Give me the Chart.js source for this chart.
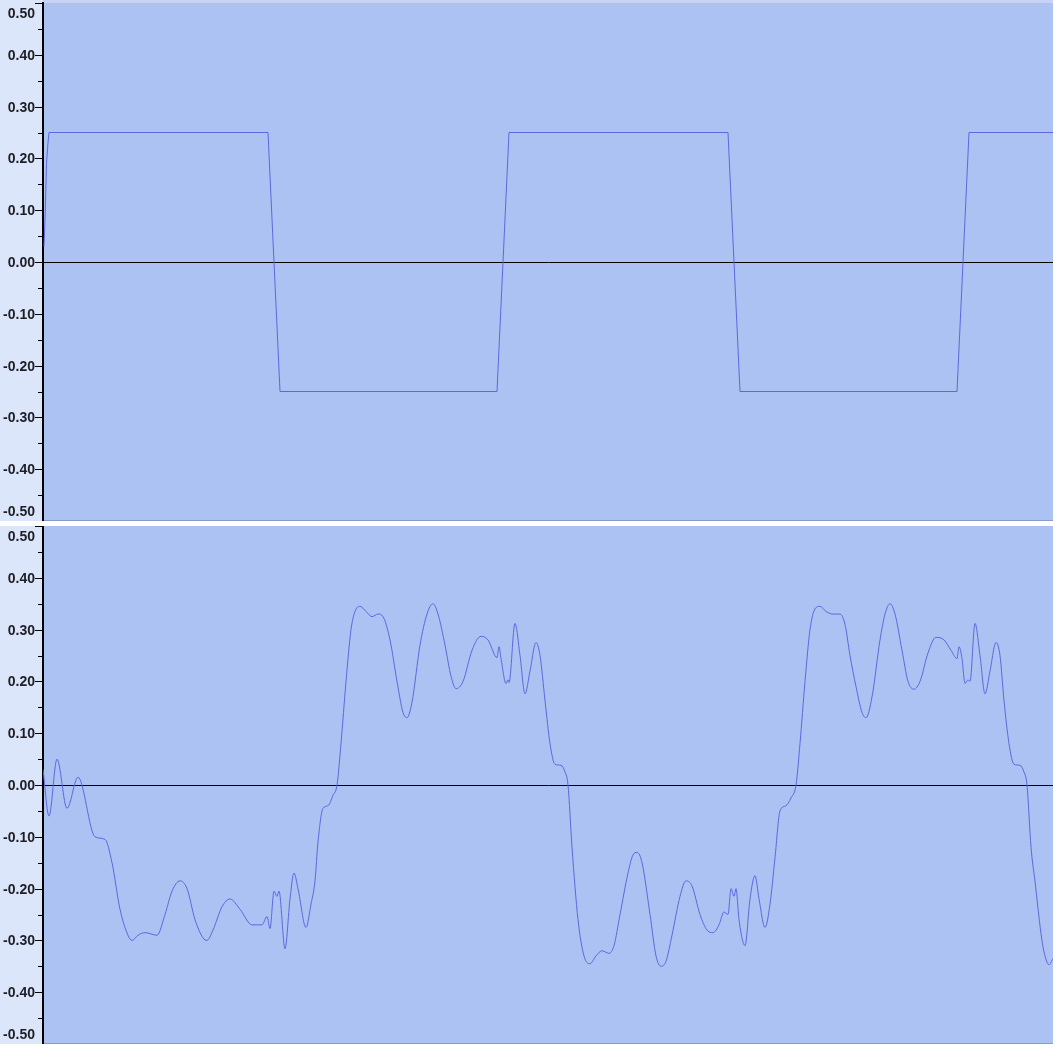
<!DOCTYPE html>
<html>
<head>
<meta charset="utf-8">
<script src="https://cdn.jsdelivr.net/npm/chart.js@4/dist/chart.umd.min.js"></script>
<style>
  html, body { margin: 0; padding: 0; background: #fff; }
  body { width: 1059px; height: 1053px; position: relative; overflow: hidden; }
  .panel { position: absolute; left: 0; }
  #top-wrap { top: 0; }
  #bottom-wrap { top: 526px; }
</style>
</head>
<body>
<div class="panel" id="top-wrap"><canvas id="topChart" width="1059" height="521"></canvas></div>
<div class="panel" id="bottom-wrap"><canvas id="bottomChart" width="1059" height="518"></canvas></div>
<script>
// sample positions and amplitudes
const squareX = [1, 2, 3.5, 5, 6, 225, 237, 454, 466, 685, 697, 914, 926, 1010];
const squareY = [0.03, 0.08, 0.19, 0.23, 0.25, 0.25, -0.25, -0.25, 0.25, 0.25, -0.25, -0.25, 0.25, 0.25];

const filteredX = [
  0, 6, 14, 24, 35, 52, 62, 69, 77, 85, 89, 95, 102, 114, 122, 129, 137, 144, 152, 160,
  164, 170, 179, 187, 197, 209, 219, 224, 227, 231, 234, 236, 242, 247, 251, 255, 263, 268, 272, 275,
  280, 285, 290, 294, 298, 303, 308, 312, 317, 323, 329, 335, 340, 347, 354, 360, 364, 369, 377, 384,
  390, 395, 402, 408, 413, 420, 429, 438, 445, 454, 456, 458, 463, 465, 466, 472, 477, 482, 487, 493,
  497, 502, 507, 512, 518, 522, 525, 529, 535, 541, 547, 553, 559, 566, 571, 577, 585, 590, 594, 599,
  607, 613, 618, 623, 629, 637, 643, 649, 657, 664, 670, 676, 681, 685, 688, 691, 693, 696, 702, 707,
  712, 716, 722, 727, 732, 737, 743, 748, 753, 757, 762, 767, 772, 777, 783, 790, 797, 802, 807, 813,
  819, 823, 829, 837, 842, 847, 852, 859, 865, 871, 877, 885, 893, 901, 908, 914, 916, 919, 922, 925,
  927, 932, 937, 942, 947, 953, 957, 961, 966, 971, 977, 981, 984, 988, 992, 998, 1001, 1006, 1010
];
const filteredY = [
  0.03, -0.06, 0.05, -0.045, 0.015, -0.10, -0.105, -0.15, -0.24, -0.29, -0.30, -0.29, -0.285, -0.29, -0.25, -0.205, -0.185, -0.2, -0.26, -0.295,
  -0.30, -0.28, -0.235, -0.22, -0.24, -0.27, -0.27, -0.254, -0.277, -0.205, -0.215, -0.205, -0.316, -0.22, -0.17, -0.2, -0.275, -0.23, -0.185, -0.11,
  -0.045, -0.04, -0.02, 0.0, 0.08, 0.2, 0.3, 0.335, 0.345, 0.335, 0.325, 0.33, 0.325, 0.28, 0.2, 0.14, 0.13, 0.16, 0.27, 0.33,
  0.35, 0.33, 0.27, 0.21, 0.186, 0.2, 0.26, 0.287, 0.28, 0.246, 0.267, 0.244, 0.196, 0.203, 0.198, 0.312, 0.25, 0.176, 0.22, 0.275,
  0.25, 0.163, 0.08, 0.04, 0.038, 0.025, 0.0, -0.12, -0.26, -0.33, -0.345, -0.33, -0.32, -0.325, -0.31, -0.25, -0.17, -0.135, -0.13, -0.15,
  -0.25, -0.33, -0.35, -0.34, -0.29, -0.215, -0.185, -0.195, -0.25, -0.28, -0.285, -0.27, -0.245, -0.25, -0.2, -0.215, -0.2, -0.26, -0.31, -0.22,
  -0.175, -0.22, -0.275, -0.23, -0.14, -0.05, -0.04, -0.025, 0.0, 0.08, 0.2, 0.3, 0.34, 0.345, 0.335, 0.33, 0.33, 0.31, 0.25, 0.19,
  0.14, 0.13, 0.17, 0.28, 0.33, 0.35, 0.33, 0.26, 0.2, 0.185, 0.2, 0.255, 0.285, 0.28, 0.26, 0.244, 0.267, 0.244, 0.196, 0.203,
  0.2, 0.312, 0.25, 0.176, 0.22, 0.275, 0.25, 0.163, 0.08, 0.04, 0.038, 0.025, 0.0, -0.12, -0.186, -0.287, -0.322, -0.347, -0.335
];

const yMin = -0.5;
const yMax = 0.5;
const tickStep = 0.05;

const AXIS_BG = '#dce6fb';
const PLOT_BG = '#abc2f2';
const STRIP_BG = '#c9d2f2';
const EDGE = '#8a9bc9';
const WAVE = '#6166de';

// paints the panel backgrounds, the tick marks and the tick labels
const panelPlugin = {
  id: 'panel',
  beforeDraw(chart) {
    const { ctx, chartArea: a } = chart;
    ctx.save();
    ctx.fillStyle = AXIS_BG;
    ctx.fillRect(0, 0, a.left, chart.height);
    ctx.fillStyle = STRIP_BG;
    ctx.fillRect(a.left, 0, a.right - a.left, a.top);
    ctx.fillStyle = PLOT_BG;
    ctx.fillRect(a.left, a.top, a.right - a.left, a.bottom - a.top);
    ctx.fillStyle = EDGE;
    ctx.fillRect(a.left, a.bottom - 1, a.right - a.left, 1);
    ctx.restore();
  },
  afterDraw(chart) {
    const { ctx, chartArea: a } = chart;
    const scale = chart.scales.y;
    ctx.save();
    ctx.strokeStyle = '#000';
    ctx.lineWidth = 1;
    ctx.fillStyle = '#1e1e24';
    ctx.font = 'bold 14px "Liberation Sans", Arial, sans-serif';
    ctx.textAlign = 'right';
    ctx.textBaseline = 'middle';
    scale.ticks.forEach(t => {
      const y = Math.round(scale.getPixelForValue(t.value)) + 0.5;
      const major = Math.round(t.value * 100) % 10 === 0;
      const len = major ? 7 : 4;
      ctx.beginPath();
      ctx.moveTo(a.left - len - 1, y);
      ctx.lineTo(a.left, y);
      ctx.stroke();
      if (major) {
        let ly = y;
        if (ly < a.top + 10.5) ly = a.top + 10.5;
        if (ly > a.bottom - 9.5) ly = a.bottom - 9.5;
        ctx.fillText(t.value.toFixed(2), 35, ly + 1);
      }
    });
    ctx.restore();
  }
};

function makeChart(id, xs, ys, smooth) {
  const points = xs.map((x, i) => ({ x: x, y: ys[i] }));
  return new Chart(document.getElementById(id), {
    type: 'line',
    data: {
      datasets: [{
        data: points,
        borderColor: WAVE,
        borderWidth: 1,
        pointRadius: 0,
        fill: false,
        cubicInterpolationMode: smooth ? 'monotone' : 'default',
        tension: 0
      }]
    },
    options: {
      responsive: false,
      animation: false,
      events: [],
      layout: { padding: { top: smooth ? 0 : 3, right: 6, bottom: 0, left: 0 } },
      plugins: { legend: { display: false }, tooltip: { enabled: false } },
      scales: {
        x: { type: 'linear', min: 0, max: 1010, display: false },
        y: {
          type: 'linear',
          min: yMin,
          max: yMax,
          ticks: { stepSize: tickStep, display: false },
          grid: {
            drawTicks: false,
            lineWidth: 1,
            color: c => (Math.abs(c.tick.value) < 1e-9 ? '#000' : 'rgba(0,0,0,0)')
          },
          border: { display: true, color: '#000', width: 2 },
          afterFit(s) { s.width = 43; }
        }
      }
    },
    plugins: [panelPlugin]
  });
}

makeChart('topChart', squareX, squareY, false);
makeChart('bottomChart', filteredX, filteredY, true);
</script>
</body>
</html>
